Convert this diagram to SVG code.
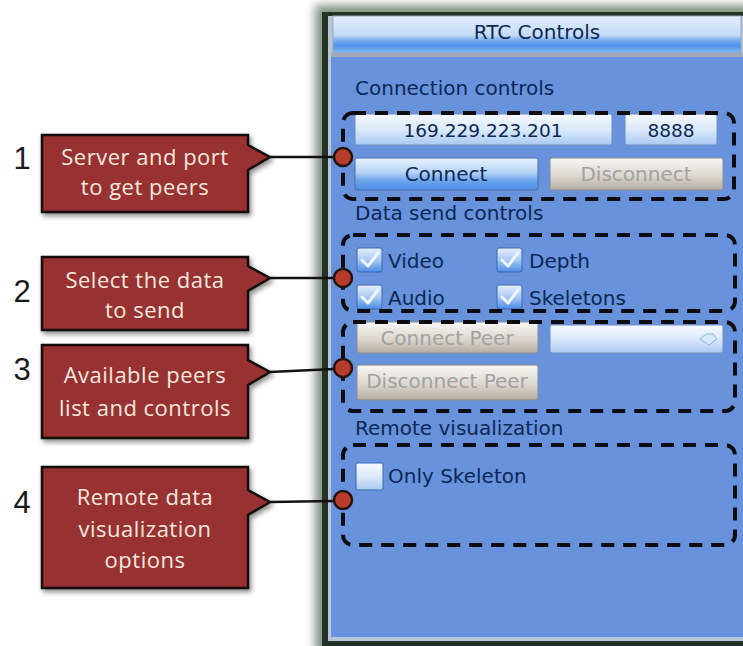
<svg xmlns="http://www.w3.org/2000/svg" width="743" height="646" viewBox="0 0 743 646">
  <defs>
    <style>
      .ui { font-family: "DejaVu Sans", Verdana, sans-serif; font-size: 20px; fill: #0c2854; }
      .ui-c { text-anchor: middle; }
      .dim { fill: #a2a2a2; }
      .note { font-family: "Open Sans", "Noto Sans", sans-serif; font-size: 22px; fill: #f6e8de; text-anchor: middle; letter-spacing: 0.5px; }
      .num { font-family: "Liberation Sans", Arial, sans-serif; font-size: 31px; fill: #1a1a1a; text-anchor: middle; }
      .callout { fill: #983232; stroke: #140a08; stroke-width: 2.5; stroke-linejoin: miter; }
      .group { fill: none; stroke: #0c0c10; stroke-width: 4; stroke-dasharray: 13 9; }
      .link { fill: none; stroke: #121212; stroke-width: 2.5; }
      .pin { fill: #b83c2c; stroke: #24140f; stroke-width: 2.5; }
      .field { fill: url(#fieldGrad); stroke: #6e8ec2; stroke-width: 1; }
      .btn { fill: url(#btnGrad); stroke: #4a6ea6; stroke-width: 1; }
      .btn-off { fill: url(#offGrad); stroke: #8c8c8c; stroke-width: 1; }
      .chk { fill: url(#chkGrad); stroke: #3a68b0; stroke-width: 1; }
      .tick { fill: none; stroke: #eef5ff; stroke-width: 3; stroke-linecap: round; stroke-linejoin: round; }
    </style>
    <linearGradient id="titleGrad" x1="0" y1="0" x2="0" y2="1">
      <stop offset="0" stop-color="#e4eefb"/>
      <stop offset="0.52" stop-color="#c4dbf7"/>
      <stop offset="0.64" stop-color="#7fb0ef"/>
      <stop offset="0.8" stop-color="#4e92ea"/>
      <stop offset="1" stop-color="#8ab6ef"/>
    </linearGradient>
    <linearGradient id="fieldGrad" x1="0" y1="0" x2="0" y2="1">
      <stop offset="0" stop-color="#f6f9fe"/>
      <stop offset="0.5" stop-color="#dbe9fa"/>
      <stop offset="1" stop-color="#a9c9f2"/>
    </linearGradient>
    <linearGradient id="btnGrad" x1="0" y1="0" x2="0" y2="1">
      <stop offset="0" stop-color="#e8f1fc"/>
      <stop offset="0.45" stop-color="#b6d3f6"/>
      <stop offset="0.7" stop-color="#6ea5ec"/>
      <stop offset="1" stop-color="#4a8de6"/>
    </linearGradient>
    <linearGradient id="offGrad" x1="0" y1="0" x2="0" y2="1">
      <stop offset="0" stop-color="#f8f7f4"/>
      <stop offset="0.55" stop-color="#dcd7d0"/>
      <stop offset="1" stop-color="#b3aca4"/>
    </linearGradient>
    <linearGradient id="chkGrad" x1="0" y1="0" x2="0" y2="1">
      <stop offset="0" stop-color="#e6f0fd"/>
      <stop offset="0.5" stop-color="#a8c9f4"/>
      <stop offset="1" stop-color="#4a8ce4"/>
    </linearGradient>
    <filter id="frameGlow" x="-10%" y="-10%" width="120%" height="120%">
      <feGaussianBlur stdDeviation="5"/>
    </filter>
    <filter id="noteShadow" x="-10%" y="-10%" width="125%" height="125%">
      <feDropShadow dx="2" dy="3" stdDeviation="2.5" flood-color="#000" flood-opacity="0.45"/>
    </filter>
  </defs>

  <rect width="743" height="646" fill="#ffffff"/>

  <!-- Window frame with soft glow -->
  <g id="window">
    <rect x="315" y="5" width="440" height="648" fill="#506250" opacity="0.7" filter="url(#frameGlow)"/>
    <rect x="322" y="12" width="430" height="634" fill="#263226"/>
    <rect x="328" y="16" width="420" height="625" fill="#b8c4d8"/>
    <rect x="331" y="57" width="415" height="580" fill="#6892dc"/>
    <rect x="333" y="16" width="408" height="37" fill="url(#titleGrad)" stroke="#9aa6b8" stroke-width="1"/>
    <rect x="331" y="53" width="415" height="4" fill="#a2a8b4"/>
    <text class="ui ui-c" x="537" y="39">RTC Controls</text>
  </g>

  <!-- Connection controls -->
  <g id="connection-controls">
    <text class="ui" x="355" y="95">Connection controls</text>
    <rect class="field" x="355" y="114" width="257" height="31" rx="2"/>
    <text class="ui ui-c" x="483" y="137" style="font-size:18.5px">169.229.223.201</text>
    <rect class="field" x="625" y="114" width="92" height="31" rx="2"/>
    <text class="ui ui-c" x="671" y="137" style="font-size:18.5px">8888</text>
    <rect class="btn" x="355" y="158" width="183" height="32" rx="2"/>
    <text class="ui ui-c" x="446" y="181">Connect</text>
    <rect class="btn-off" x="550" y="158" width="173" height="32" rx="2"/>
    <text class="ui ui-c dim" x="636" y="181">Disconnect</text>
  </g>

  <!-- Data send controls -->
  <g id="data-send-controls">
    <text class="ui" x="355" y="220">Data send controls</text>
    <rect class="chk" x="357" y="248" width="25" height="24" rx="2"/>
    <path class="tick" d="M362,260 L368,266 L378,253"/>
    <text class="ui" x="388" y="268">Video</text>
    <rect class="chk" x="497" y="248" width="25" height="24" rx="2"/>
    <path class="tick" d="M502,260 L508,266 L518,253"/>
    <text class="ui" x="529" y="268">Depth</text>
    <rect class="chk" x="357" y="285" width="25" height="24" rx="2"/>
    <path class="tick" d="M362,297 L368,303 L378,290"/>
    <text class="ui" x="388" y="305">Audio</text>
    <rect class="chk" x="497" y="285" width="25" height="24" rx="2"/>
    <path class="tick" d="M502,297 L508,303 L518,290"/>
    <text class="ui" x="529" y="305">Skeletons</text>
  </g>

  <!-- Peer controls -->
  <g id="peer-controls">
    <rect class="btn-off" x="357" y="322" width="181" height="31" rx="2"/>
    <text class="ui ui-c dim" x="447" y="345">Connect Peer</text>
    <rect class="field" x="550" y="325" width="173" height="28" rx="2"/>
    <path d="M700,339 L706,334 L713,334 L717,339 L709,345 Z" fill="#d6e8fb" stroke="#8fb0dc" stroke-width="1"/>
    <rect class="btn-off" x="357" y="365" width="181" height="35" rx="2"/>
    <text class="ui ui-c dim" x="447" y="388">Disconnect Peer</text>
  </g>

  <!-- Remote visualization -->
  <g id="remote-visualization">
    <text class="ui" x="355" y="435">Remote visualization</text>
    <rect class="chk" x="356" y="463" width="27" height="27" rx="2" style="fill:url(#fieldGrad)"/>
    <text class="ui" x="388" y="483">Only Skeleton</text>
  </g>

  <!-- Dashed highlight groups -->
  <g id="highlights">
    <rect class="group" x="343" y="113" width="391" height="86" rx="10"/>
    <rect class="group" x="343" y="235" width="392" height="76" rx="10"/>
    <rect class="group" x="343" y="322" width="392" height="89" rx="10"/>
    <rect class="group" x="343" y="445" width="392" height="100" rx="10"/>
  </g>

  <!-- Callout notes -->
  <g id="note-1">
    <text class="num" x="22" y="169">1</text>
    <path class="callout" filter="url(#noteShadow)" d="M42,135 H248 V145 L270,157 L248,170 V212 H42 Z"/>
    <text class="note" x="145" y="165">Server and port</text>
    <text class="note" x="145" y="195">to get peers</text>
  </g>
  <g id="note-2">
    <text class="num" x="22" y="302">2</text>
    <path class="callout" filter="url(#noteShadow)" d="M42,257 H248 V266 L270,278 L248,291 V330 H42 Z"/>
    <text class="note" x="145" y="288">Select the data</text>
    <text class="note" x="145" y="318">to send</text>
  </g>
  <g id="note-3">
    <text class="num" x="22" y="380">3</text>
    <path class="callout" filter="url(#noteShadow)" d="M42,345 H248 V360 L270,372 L248,385 V438 H42 Z"/>
    <text class="note" x="145" y="383">Available peers</text>
    <text class="note" x="145" y="416">list and controls</text>
  </g>
  <g id="note-4">
    <text class="num" x="22" y="513">4</text>
    <path class="callout" filter="url(#noteShadow)" d="M42,467 H248 V490 L270,502 L248,515 V588 H42 Z"/>
    <text class="note" x="145" y="505">Remote data</text>
    <text class="note" x="145" y="537">visualization</text>
    <text class="note" x="145" y="568">options</text>
  </g>

  <!-- Connectors from notes to the highlighted groups -->
  <g id="connectors">
    <path class="link" d="M270,157 H334"/>
    <path class="link" d="M270,278 H334"/>
    <path class="link" d="M270,372 L334,369"/>
    <path class="link" d="M270,502 L334,501"/>
    <circle class="pin" cx="343" cy="157" r="9"/>
    <circle class="pin" cx="343" cy="278" r="9"/>
    <circle class="pin" cx="343" cy="368" r="9"/>
    <circle class="pin" cx="343" cy="500" r="9"/>
  </g>
</svg>
